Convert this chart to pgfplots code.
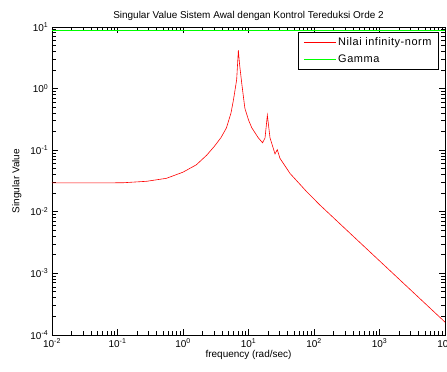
\documentclass[border=0pt]{standalone}
\usepackage{fontspec}
\setmainfont{Liberation Sans}
\newfontfamily\legfont[LetterSpace=5]{Liberation Sans}
\usepackage{pgfplots}
\pgfplotsset{compat=1.18}
\pgfplotsset{
  mylegend/.style={legend image code/.code={\draw[##1] (0bp,0bp) -- (32bp,0bp);}},
}
\begin{document}
\begin{tikzpicture}
\begin{axis}[
  at={(0,0)}, anchor=south west,
  scale only axis, width=393bp, height=308bp,
  xmode=log, ymode=log,
  xmin=1e-2, xmax=1e4, ymin=1e-4, ymax=1e1,
  xtick={1e-2,1e-1,1,1e1,1e2,1e3,1e4},
  ytick={1e-4,1e-3,1e-2,1e-1,1,1e1},
  xticklabels={10\textsuperscript{-2},10\textsuperscript{-1},10\textsuperscript{0},10\textsuperscript{1},10\textsuperscript{2},10\textsuperscript{3},10\textsuperscript{4}},
  yticklabels={10\textsuperscript{-4},10\textsuperscript{-3},10\textsuperscript{-2},10\textsuperscript{-1},10\textsuperscript{0},10\textsuperscript{1}},
  minor xtick={0.02,0.03,0.04,0.05,0.06,0.07,0.08,0.09,
    0.2,0.3,0.4,0.5,0.6,0.7,0.8,0.9,
    2,3,4,5,6,7,8,9,
    20,30,40,50,60,70,80,90,
    200,300,400,500,600,700,800,900,
    2000,3000,4000,5000,6000,7000,8000,9000},
  minor ytick={0.0002,0.0003,0.0004,0.0005,0.0006,0.0007,0.0008,0.0009,
    0.002,0.003,0.004,0.005,0.006,0.007,0.008,0.009,
    0.02,0.03,0.04,0.05,0.06,0.07,0.08,0.09,
    0.2,0.3,0.4,0.5,0.6,0.7,0.8,0.9,
    2,3,4,5,6,7,8,9},
  tick label style={font=\fontsize{10}{12}\selectfont},
  xtick align=inside, ytick align=inside, xtick pos=both, ytick pos=both,
  major tick length=6bp, minor tick length=4bp,
  every tick/.style={draw=black, line width=1pt},
  every axis/.append style={line width=0.9pt},
  title={Singular Value Sistem Awal dengan Kontrol Tereduksi Orde 2},
  title style={font=\fontsize{10}{12}\selectfont, yshift=-3bp},
  xlabel={frequency (rad/sec)},
  ylabel={Singular Value},
  label style={font=\fontsize{10}{12}\selectfont},
  xlabel style={yshift=4bp},
  ylabel style={yshift=2bp},
  mylegend,
  legend style={at={(1,1)}, anchor=north east, xshift=-6bp, yshift=-5bp,
    font=\legfont\fontsize{11}{13}\selectfont,
    cells={anchor=west}, inner xsep=5bp, inner ysep=3bp, row sep=4bp},
]
\addplot[red, line width=0.6pt] coordinates {
(0.01,0.0295) (0.05,0.0295) (0.12,0.0296) (0.28,0.0313) (0.56,0.035)
(1.0,0.044) (1.6,0.058) (2.3,0.083) (3.0,0.115) (3.8,0.16) (4.6,0.23)
(5.4,0.40) (5.9,0.66) (6.6,1.4) (7.0,4.2) (7.3,2.5) (7.9,1.2) (8.8,0.48)
(10,0.31) (11.2,0.232) (14.1,0.159) (16.4,0.132) (17.9,0.159) (19.4,0.37)
(21.3,0.159) (25.4,0.087) (27.5,0.102) (30.2,0.074) (43,0.042) (78,0.021)
(123,0.0129) (300,0.0053) (1000,0.00160) (10000,0.000162)
};
\addlegendentry{Nilai infinity-norm}
\addplot[green, line width=0.6pt] coordinates {(0.01,8.9) (10000,8.9)};
\addlegendentry{Gamma}
\end{axis}
\pgfresetboundingbox
\path (-52bp,-37bp) rectangle (395bp,335bp);
\end{tikzpicture}
\end{document}
